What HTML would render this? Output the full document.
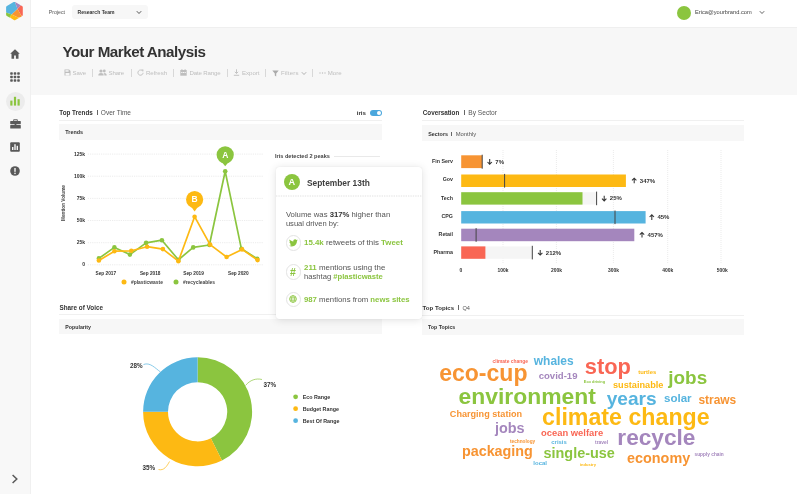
<!DOCTYPE html>
<html><head><meta charset="utf-8"><title>Your Market Analysis</title><style>
html,body{margin:0;padding:0}
body{width:797px;height:494px;position:relative;overflow:hidden;background:#fff;font-family:"Liberation Sans",sans-serif}
#txt{will-change:transform}
#txt text{font-family:"Liberation Sans",sans-serif;white-space:pre}
#side{position:absolute;left:0;top:0;width:31px;height:494px;background:#f8f8f8;border-right:0.6px solid #f0f0f0;box-sizing:border-box}
#top{position:absolute;left:31px;top:0;width:766px;height:27px;background:#fff}
#topl{position:absolute;left:31px;top:27px;width:766px;height:1px;background:#efefef}
#band{position:absolute;left:31px;top:27px;width:766px;height:67.6px;background:#f7f7f7}
#card{position:absolute;left:275.6px;top:166.9px;width:146px;height:151.8px;background:#fff;border-radius:3px;box-shadow:0 1px 8px rgba(0,0,0,0.12),0 0 1px rgba(0,0,0,0.12)}
</style></head><body>
<div id="side"></div>
<div id="top"></div>
<div id="band"></div>
<div id="topl"></div>

<svg style="position:absolute;left:0;top:0" width="32" height="24" viewBox="0 0 32 24">
<defs><clipPath id="hx"><path d="M13.6 2.1a1.5 1.5 0 0 1 1.5 0l6.9 3.9a1.5 1.5 0 0 1 .8 1.300v7.700a1.500 1.500 0 0 1-.8 1.300l-6.600 3.800a1.500 1.500 0 0 1-1.500 0l-7-4a1.500 1.500 0 0 1-.8-1.300v-7.500a1.500 1.500 0 0 1 .8-1.300z"/></clipPath></defs>
<g clip-path="url(#hx)">
<polygon points="14.3,0 4,5 4,11.9 11.65,14.6 17.5,9" fill="#56b4df"/>
<polygon points="14.3,0 23,3 20.9,5.3 17.5,9" fill="#a486bd"/>
<polygon points="20.9,5.300 23,3 25,6 25,16 21.4,15.800 17.500,9" fill="#f96654"/>
<polygon points="17.5,9 21.4,15.8 23,18 18,17.5 11.65,14.600" fill="#f79433"/>
<polygon points="11.65,14.600 18,17.500 20,19 14.600,22 9.700,17" fill="#fdb913"/>
<polygon points="4,11.9 11.65,14.6 9.7,17 11,21 4,20" fill="#8bc53f"/>
</g></svg>
<div style="position:absolute;left:71.8px;top:5.3px;width:76.3px;height:13.5px;background:#f7f7f7;border-radius:3px"></div>
<svg style="position:absolute;left:136px;top:10px" width="6" height="5" viewBox="0 0 6 5"><path d="M0.8 1.2 L3 3.5 L5.2 1.2" fill="none" stroke="#444" stroke-width="0.9"/></svg>
<div style="position:absolute;left:676.6px;top:5.5px;width:14px;height:14px;border-radius:50%;background:#8bc53f"></div>
<svg style="position:absolute;left:758.6px;top:10px" width="6" height="5" viewBox="0 0 6 5"><path d="M0.8 1.2 L3 3.5 L5.2 1.2" fill="none" stroke="#555" stroke-width="0.9"/></svg>
<div style="position:absolute;left:91.6px;top:68.5px;width:0.8px;height:8.5px;background:#d8d8d8"></div>
<div style="position:absolute;left:130.6px;top:68.5px;width:0.8px;height:8.5px;background:#d8d8d8"></div>
<div style="position:absolute;left:173.1px;top:68.5px;width:0.8px;height:8.5px;background:#d8d8d8"></div>
<div style="position:absolute;left:226.6px;top:68.5px;width:0.8px;height:8.5px;background:#d8d8d8"></div>
<div style="position:absolute;left:264.6px;top:68.5px;width:0.8px;height:8.5px;background:#d8d8d8"></div>
<div style="position:absolute;left:311.6px;top:68.5px;width:0.8px;height:8.5px;background:#d8d8d8"></div>
<svg style="position:absolute;left:63.5px;top:69.4px" width="7" height="7" viewBox="0 0 7 7"><path d="M0.5 0.5h4.6l1.4 1.4v4.6h-6z" fill="#bebebe"/><rect x="1.4" y="1.2" width="3.2" height="1.5" fill="#f7f7f7"/><rect x="1.5" y="4" width="4" height="2.5" fill="#f7f7f7"/></svg>
<svg style="position:absolute;left:98px;top:69.2px" width="9" height="7" viewBox="0 0 9 7"><circle cx="3" cy="2" r="1.6" fill="#bebebe"/><path d="M0.3 6.5c0-2 1.2-2.6 2.7-2.6s2.7 0.6 2.7 2.6z" fill="#bebebe"/><circle cx="6.3" cy="2" r="1.4" fill="#bebebe"/><path d="M6 3.9c1.6 0 2.7 0.6 2.7 2.6h-2.3c0-1-0.2-2-1-2.5z" fill="#bebebe"/></svg>
<svg style="position:absolute;left:136.5px;top:69.2px" width="7" height="7" viewBox="0 0 7 7"><path d="M5.6 2.1A2.6 2.6 0 1 0 6.1 3.8" fill="none" stroke="#bebebe" stroke-width="0.9"/><path d="M4.2 0.4h2.2v2.2z" fill="#bebebe"/></svg>
<svg style="position:absolute;left:180px;top:69.2px" width="7" height="7" viewBox="0 0 7 7"><rect x="0.3" y="1" width="6.4" height="5.7" fill="#bebebe"/><rect x="1.4" y="0.2" width="1" height="1.6" fill="#bebebe"/><rect x="4.6" y="0.2" width="1" height="1.6" fill="#bebebe"/><rect x="1.2" y="3" width="1.2" height="1" fill="#f7f7f7"/><rect x="2.9" y="3" width="1.2" height="1" fill="#f7f7f7"/><rect x="4.6" y="3" width="1.2" height="1" fill="#f7f7f7"/></svg>
<svg style="position:absolute;left:233px;top:69.2px" width="7" height="7" viewBox="0 0 7 7"><path d="M3.5 0.3v4M1.8 2.8l1.7 1.7 1.7-1.7M0.8 6.3h5.4" fill="none" stroke="#bebebe" stroke-width="0.9"/></svg>
<svg style="position:absolute;left:272px;top:69.6px" width="7" height="7" viewBox="0 0 7 7"><path d="M0.3 0.4h6.4L4.2 3.4v3L2.8 5.6V3.4z" fill="#aaa"/></svg>
<svg style="position:absolute;left:300.5px;top:70.7px" width="6" height="5" viewBox="0 0 6 5"><path d="M0.8 1.2 L3 3.5 L5.2 1.2" fill="none" stroke="#aaa" stroke-width="0.9"/></svg>
<svg style="position:absolute;left:318.5px;top:71.7px" width="7" height="2" viewBox="0 0 7 2"><circle cx="1" cy="1" r="0.7" fill="#bebebe"/><circle cx="3.5" cy="1" r="0.7" fill="#bebebe"/><circle cx="6" cy="1" r="0.7" fill="#bebebe"/></svg>
<svg style="position:absolute;left:10px;top:48.5px" width="10" height="10" viewBox="0 0 10 10"><path d="M5 0.3L0.2 4.8h1.3v4.9h2.6V6.4h1.8v3.3h2.6V4.8h1.3z" fill="#595959"/></svg>
<svg style="position:absolute;left:10px;top:72.3px" width="10" height="10" viewBox="0 0 10 10"><rect x="0.2" y="0.2" width="2.6" height="2.6" rx="0.7" fill="#595959"/><rect x="0.2" y="3.7" width="2.6" height="2.6" rx="0.7" fill="#595959"/><rect x="0.2" y="7.2" width="2.6" height="2.6" rx="0.7" fill="#595959"/><rect x="3.7" y="0.2" width="2.6" height="2.6" rx="0.7" fill="#595959"/><rect x="3.7" y="3.7" width="2.6" height="2.6" rx="0.7" fill="#595959"/><rect x="3.7" y="7.2" width="2.6" height="2.6" rx="0.7" fill="#595959"/><rect x="7.2" y="0.2" width="2.6" height="2.6" rx="0.7" fill="#595959"/><rect x="7.2" y="3.7" width="2.6" height="2.6" rx="0.7" fill="#595959"/><rect x="7.2" y="7.2" width="2.6" height="2.6" rx="0.7" fill="#595959"/></svg>
<div style="position:absolute;left:5.5px;top:91.5px;width:19px;height:19px;border-radius:50%;background:#ececec"></div>
<svg style="position:absolute;left:10px;top:96px" width="10" height="10" viewBox="0 0 10 10"><rect x="0.3" y="4.6" width="2.2" height="5" fill="#8bc53f"/><rect x="3.9" y="0.8" width="2.2" height="8.8" fill="#8bc53f"/><rect x="7.5" y="3.2" width="2.2" height="6.4" fill="#8bc53f"/></svg>
<svg style="position:absolute;left:9.5px;top:119px" width="11" height="10" viewBox="0 0 11 10"><path d="M3.6 1.8V0.8h3.8v1" fill="none" stroke="#595959" stroke-width="1"/><rect x="0.2" y="2" width="10.6" height="3.2" rx="0.6" fill="#595959"/><rect x="0.2" y="5.9" width="10.6" height="3.6" rx="0.6" fill="#595959"/><rect x="4.6" y="4.6" width="1.8" height="1.9" fill="#595959"/></svg>
<svg style="position:absolute;left:10px;top:142px" width="10" height="10" viewBox="0 0 10 10"><rect x="0.2" y="0.2" width="9.6" height="9.6" rx="1" fill="#595959"/><rect x="2" y="5" width="1.4" height="3" fill="#f7f7f7"/><rect x="4.3" y="2.2" width="1.4" height="5.8" fill="#f7f7f7"/><rect x="6.6" y="3.8" width="1.4" height="4.2" fill="#f7f7f7"/></svg>
<svg style="position:absolute;left:10px;top:166px" width="10" height="10" viewBox="0 0 10 10"><circle cx="5" cy="5" r="4.8" fill="#595959"/><rect x="4.3" y="2" width="1.4" height="3.8" fill="#f7f7f7"/><rect x="4.3" y="6.7" width="1.4" height="1.4" fill="#f7f7f7"/></svg>
<svg style="position:absolute;left:11px;top:474px" width="8" height="10" viewBox="0 0 8 10"><path d="M1.6 1L5.8 5L1.6 9" fill="none" stroke="#595959" stroke-width="1.5"/></svg>
<div style="position:absolute;left:96.6px;top:110.3px;width:0.8px;height:5.2px;background:#666"></div>
<div style="position:absolute;left:59px;top:119.7px;width:322.5px;height:0.8px;background:#f0f0f0"></div>
<div style="position:absolute;left:59px;top:123.8px;width:322.5px;height:15.8px;background:#f7f7f7"></div>
<div style="position:absolute;left:369.8px;top:110.3px;width:12.2px;height:5.6px;border-radius:3px;background:#4ba7dd"></div>
<div style="position:absolute;left:377px;top:110.9px;width:4.4px;height:4.4px;border-radius:50%;background:#fff"></div>
<svg style="position:absolute;left:0;top:0" width="797" height="494" viewBox="0 0 797 494"><line x1="87.8" x2="263" y1="264.8" y2="264.8" stroke="#e4e4e4" stroke-width="0.7" stroke-dasharray="1.2 1"/><line x1="87.8" x2="263" y1="242.7" y2="242.7" stroke="#e4e4e4" stroke-width="0.7" stroke-dasharray="1.2 1"/><line x1="87.8" x2="263" y1="220.5" y2="220.5" stroke="#e4e4e4" stroke-width="0.7" stroke-dasharray="1.2 1"/><line x1="87.8" x2="263" y1="198.4" y2="198.4" stroke="#e4e4e4" stroke-width="0.7" stroke-dasharray="1.2 1"/><line x1="87.8" x2="263" y1="176.2" y2="176.2" stroke="#e4e4e4" stroke-width="0.7" stroke-dasharray="1.2 1"/><line x1="87.8" x2="263" y1="154.1" y2="154.1" stroke="#e4e4e4" stroke-width="0.7" stroke-dasharray="1.2 1"/><polyline points="98.9,258.4 114.4,247.4 129.9,254.6 146.1,242.9 161.9,240.2 178.4,259.8 193.2,247.4 209.4,245 225.2,171.3 241.4,248.8 257.2,258.7" fill="none" stroke="#8bc53f" stroke-width="1.7" stroke-linejoin="round"/><circle cx="98.9" cy="258.4" r="2.3" fill="#8bc53f"/><circle cx="114.4" cy="247.4" r="2.3" fill="#8bc53f"/><circle cx="129.9" cy="254.6" r="2.3" fill="#8bc53f"/><circle cx="146.1" cy="242.9" r="2.3" fill="#8bc53f"/><circle cx="161.9" cy="240.2" r="2.3" fill="#8bc53f"/><circle cx="178.4" cy="259.8" r="2.3" fill="#8bc53f"/><circle cx="193.2" cy="247.4" r="2.3" fill="#8bc53f"/><circle cx="209.4" cy="245" r="2.3" fill="#8bc53f"/><circle cx="225.2" cy="171.3" r="2.3" fill="#8bc53f"/><circle cx="241.4" cy="248.8" r="2.3" fill="#8bc53f"/><circle cx="257.2" cy="258.7" r="2.3" fill="#8bc53f"/><polyline points="98.9,260.5 114.4,251.2 131.3,250.8 147.1,246.7 162.9,249.1 178.4,261.2 194.6,216.7 210.1,244.6 226.6,257 242.1,249.4 257.6,260.1" fill="none" stroke="#fdb913" stroke-width="1.7" stroke-linejoin="round"/><circle cx="98.9" cy="260.5" r="2.3" fill="#fdb913"/><circle cx="114.4" cy="251.2" r="2.3" fill="#fdb913"/><circle cx="131.3" cy="250.8" r="2.3" fill="#fdb913"/><circle cx="147.1" cy="246.7" r="2.3" fill="#fdb913"/><circle cx="162.9" cy="249.1" r="2.3" fill="#fdb913"/><circle cx="178.4" cy="261.2" r="2.3" fill="#fdb913"/><circle cx="194.6" cy="216.7" r="2.3" fill="#fdb913"/><circle cx="210.1" cy="244.6" r="2.3" fill="#fdb913"/><circle cx="226.6" cy="257" r="2.3" fill="#fdb913"/><circle cx="242.1" cy="249.4" r="2.3" fill="#fdb913"/><circle cx="257.6" cy="260.1" r="2.3" fill="#fdb913"/><path d="M222.0 162.20000000000002 L225.2 166.2 L228.39999999999998 162.20000000000002 Z" fill="#8bc53f"/><circle cx="225.2" cy="154.8" r="8.6" fill="#8bc53f"/><path d="M191.4 206.9 L194.6 211.6 L197.79999999999998 206.9 Z" fill="#fdb913"/><circle cx="194.6" cy="199.5" r="8.6" fill="#fdb913"/><circle cx="124" cy="281.9" r="2.5" fill="#fdb913"/><circle cx="176" cy="281.9" r="2.5" fill="#8bc53f"/></svg>
<div style="position:absolute;left:334px;top:155.6px;width:45.5px;height:0.7px;background:#e9e9e9"></div>
<div style="position:absolute;left:463.6px;top:110.3px;width:0.8px;height:5.2px;background:#666"></div>
<div style="position:absolute;left:422px;top:119.7px;width:322px;height:0.8px;background:#f0f0f0"></div>
<div style="position:absolute;left:421.7px;top:125px;width:322.3px;height:16.4px;background:#f7f7f7"></div>
<div style="position:absolute;left:451.4px;top:131.5px;width:0.8px;height:4.7px;background:#666"></div>
<svg style="position:absolute;left:0;top:0" width="797" height="494" viewBox="0 0 797 494"><line x1="503" x2="503" y1="150" y2="263" stroke="#e2e2e2" stroke-width="0.7" stroke-dasharray="1 1"/><line x1="556.4" x2="556.4" y1="150" y2="263" stroke="#e2e2e2" stroke-width="0.7" stroke-dasharray="1 1"/><line x1="613.4" x2="613.4" y1="150" y2="263" stroke="#e2e2e2" stroke-width="0.7" stroke-dasharray="1 1"/><line x1="667.7" x2="667.7" y1="150" y2="263" stroke="#e2e2e2" stroke-width="0.7" stroke-dasharray="1 1"/><line x1="721" x2="721" y1="150" y2="263" stroke="#e2e2e2" stroke-width="0.7" stroke-dasharray="1 1"/><rect x="461.2" y="155.3" width="21.0" height="12.8" fill="#f79433"/><rect x="481.7" y="154.70000000000002" width="1" height="14.0" fill="#444"/><path d="M489.7 159.1V164.1M487.5 162.0L489.7 164.2L491.9 162.0" fill="none" stroke="#333" stroke-width="1.05"/><rect x="461.2" y="174.5" width="164.7" height="12.5" fill="#fdb913"/><rect x="504.1" y="173.9" width="1" height="13.7" fill="#444"/><path d="M634.2 183.35V178.35M632 180.45L634.2 178.25L636.4 180.45" fill="none" stroke="#333" stroke-width="1.05"/><rect x="461.2" y="192.2" width="135.40000000000003" height="12.400000000000006" fill="#f5f5f5"/><rect x="461.2" y="192.2" width="121.3" height="12.4" fill="#8bc53f"/><rect x="596.1" y="191.6" width="1" height="13.6" fill="#444"/><path d="M604.2 195.79999999999998V200.79999999999998M602 198.7L604.2 200.89999999999998L606.4 198.7" fill="none" stroke="#333" stroke-width="1.05"/><rect x="461.2" y="211.1" width="184.4" height="12.4" fill="#56b4df"/><rect x="614.5" y="210.5" width="1" height="13.6" fill="#444"/><path d="M651.8000000000001 219.9V214.9M649.6 217.0L651.8000000000001 214.8L654.0 217.0" fill="none" stroke="#333" stroke-width="1.05"/><rect x="461.2" y="228.7" width="173.1" height="12.5" fill="#a486bd"/><rect x="475.6" y="228.1" width="1" height="13.7" fill="#444"/><path d="M642.0 237.54999999999998V232.54999999999998M639.8 234.64999999999998L642.0 232.45L644.1999999999999 234.64999999999998" fill="none" stroke="#333" stroke-width="1.05"/><rect x="461.2" y="246.4" width="71.09999999999997" height="12.400000000000006" fill="#f5f5f5"/><rect x="461.2" y="246.4" width="24.2" height="12.4" fill="#f96654"/><rect x="531.8" y="245.8" width="1" height="13.6" fill="#444"/><path d="M540.2 250.00000000000003V255.00000000000003M538 252.90000000000003L540.2 255.10000000000002L542.4 252.90000000000003" fill="none" stroke="#333" stroke-width="1.05"/></svg>
<div style="position:absolute;left:59px;top:314px;width:322.5px;height:0.8px;background:#f0f0f0"></div>
<div style="position:absolute;left:59px;top:318.9px;width:322.5px;height:15.6px;background:#f7f7f7"></div>
<svg style="position:absolute;left:0;top:0" width="797" height="494" viewBox="0 0 797 494"><path d="M197.60 357.30A54.5 54.5 0 0 1 222.00 460.53L210.85 438.27A29.6 29.6 0 0 0 197.60 382.20Z" fill="#8bc53f"/><path d="M222.00 460.53A54.5 54.5 0 0 1 143.10 411.80L168.00 411.80A29.6 29.6 0 0 0 210.85 438.27Z" fill="#fdb913"/><path d="M143.10 411.80A54.5 54.5 0 0 1 197.60 357.30L197.60 382.20A29.6 29.6 0 0 0 168.00 411.80Z" fill="#56b4df"/><path d="M143.5 364.5C150 362 155 368 160.5 372" fill="none" stroke="#56b4df" stroke-width="0.7"/><path d="M245.5 385.5C250 380 256 378 262 379.5" fill="none" stroke="#8bc53f" stroke-width="0.7"/><path d="M158.5 469.5C164 471 167 466 169.5 461.5" fill="none" stroke="#fdb913" stroke-width="0.7"/><circle cx="295.6" cy="396.8" r="2.4" fill="#8bc53f"/><circle cx="295.6" cy="408.7" r="2.4" fill="#fdb913"/><circle cx="295.6" cy="420.7" r="2.4" fill="#56b4df"/></svg>
<div style="position:absolute;left:458.0px;top:305.3px;width:0.8px;height:5.2px;background:#666"></div>
<div style="position:absolute;left:422px;top:314.5px;width:322px;height:0.8px;background:#f0f0f0"></div>
<div style="position:absolute;left:422px;top:319.1px;width:322px;height:16.1px;background:#f7f7f7"></div>
<div id="card"></div>
<svg style="position:absolute;left:275.6px;top:194.5px" width="146" height="2" viewBox="0 0 146 2"><line x1="0" x2="146" y1="1" y2="1" stroke="#cfcfcf" stroke-width="0.6" stroke-dasharray="1.4 1"/></svg>
<div style="position:absolute;left:283.7px;top:173.8px;width:16.4px;height:16.4px;border-radius:50%;background:#8bc53f"></div>
<div style="position:absolute;left:285.8px;top:235.10000000000002px;width:13.6px;height:13.6px;border-radius:50%;border:0.7px solid #e3e3e3;background:#fff"></div>
<div style="position:absolute;left:285.8px;top:264.40000000000003px;width:13.6px;height:13.6px;border-radius:50%;border:0.7px solid #e3e3e3;background:#fff"></div>
<div style="position:absolute;left:285.8px;top:291.7px;width:13.6px;height:13.6px;border-radius:50%;border:0.7px solid #e3e3e3;background:#fff"></div>
<svg style="position:absolute;left:288.6px;top:238.6px" width="9" height="8" viewBox="0 0 24 20"><path fill="#8bc53f" d="M23.6 2.4c-.9.4-1.800.6-2.800.8 1-.6 1.800-1.600 2.100-2.700-.9.600-2 1-3.100 1.200C18.900.7 17.700.1 16.300.1c-2.700 0-4.800 2.200-4.800 4.800 0 .4 0 .8.100 1.100C7.600 5.800 4.100 3.900 1.700.9c-.4.700-.7 1.600-.7 2.500 0 1.700.9 3.100 2.200 4-.8 0-1.500-.2-2.200-.6v.1c0 2.300 1.700 4.300 3.900 4.700-.4.100-.8.200-1.300.2-.3 0-.6 0-.9-.1.600 1.900 2.400 3.300 4.500 3.400-1.700 1.300-3.700 2.100-6 2.100-.4 0-.8 0-1.200-.1 2.100 1.400 4.700 2.200 7.400 2.200 8.900 0 13.700-7.300 13.700-13.700v-.6c.9-.7 1.700-1.500 2.400-2.500z"/></svg>
<svg style="position:absolute;left:289px;top:295px" width="8" height="8" viewBox="0 0 8 8"><circle cx="4" cy="4" r="3.4" fill="none" stroke="#8bc53f" stroke-width="0.8"/><ellipse cx="4" cy="4" rx="1.5" ry="3.4" fill="none" stroke="#8bc53f" stroke-width="0.7"/><path d="M0.6 4h6.8M1 2.4h6M1 5.6h6" stroke="#8bc53f" stroke-width="0.6" fill="none"/></svg>
<svg id="txt" style="position:absolute;left:0;top:0" width="797" height="494" viewBox="0 0 797 494">
<text font-size="5.21" font-weight="400" fill="#555" text-anchor="start" x="48.80" y="14.02">Project</text>
<text font-size="5.06" font-weight="700" fill="#333" text-anchor="start" x="77.50" y="13.97">Research Team</text>
<text font-size="5.69" font-weight="400" fill="#444" text-anchor="start" x="695.00" y="14.28">Erica@yourbrand.com</text>
<text font-size="15.20" font-weight="700" fill="#333" text-anchor="start" letter-spacing="-0.495" x="62.50" y="57.22">Your Market Analysis</text>
<text font-size="6.10" font-weight="400" fill="#bebebe" text-anchor="start" letter-spacing="-0.151" x="72.60" y="74.71">Save</text>
<text font-size="6.10" font-weight="400" fill="#bebebe" text-anchor="start" letter-spacing="-0.156" x="108.50" y="74.71">Share</text>
<text font-size="6.10" font-weight="400" fill="#bebebe" text-anchor="start" letter-spacing="-0.051" x="146.00" y="74.71">Refresh</text>
<text font-size="6.10" font-weight="400" fill="#bebebe" text-anchor="start" letter-spacing="-0.146" x="189.50" y="74.71">Date Range</text>
<text font-size="6.10" font-weight="400" fill="#bebebe" text-anchor="start" letter-spacing="-0.022" x="242.00" y="74.71">Export</text>
<text font-size="6.10" font-weight="400" fill="#bebebe" text-anchor="start" letter-spacing="0.142" x="281.00" y="74.71">Filters</text>
<text font-size="6.10" font-weight="400" fill="#bebebe" text-anchor="start" letter-spacing="0.050" x="327.70" y="74.71">More</text>
<text font-size="6.30" font-weight="700" fill="#333" text-anchor="start" x="59.30" y="114.88">Top Trends</text>
<text font-size="6.55" font-weight="400" fill="#555" text-anchor="start" x="100.80" y="114.96">Over Time</text>
<text font-size="5.40" font-weight="700" fill="#333" text-anchor="start" x="65.30" y="133.68">Trends</text>
<text font-size="6.20" font-weight="700" fill="#333" text-anchor="start" x="356.70" y="114.84">iris</text>
<text font-size="8.50" font-weight="700" fill="#fff" text-anchor="middle" x="225.20" y="157.71">A</text>
<text font-size="8.50" font-weight="700" fill="#fff" text-anchor="middle" x="194.60" y="202.41">B</text>
<text font-size="5.00" font-weight="700" fill="#333" text-anchor="end" x="85.00" y="266.45">0</text>
<text font-size="5.00" font-weight="700" fill="#333" text-anchor="end" x="85.00" y="244.31">25k</text>
<text font-size="5.00" font-weight="700" fill="#333" text-anchor="end" x="85.00" y="222.17">50k</text>
<text font-size="5.00" font-weight="700" fill="#333" text-anchor="end" x="85.00" y="200.03">75k</text>
<text font-size="5.00" font-weight="700" fill="#333" text-anchor="end" x="85.00" y="177.89">100k</text>
<text font-size="5.00" font-weight="700" fill="#333" text-anchor="end" x="85.00" y="155.75">125k</text>
<text font-size="4.75" font-weight="700" fill="#333" text-anchor="middle" x="105.80" y="274.77">Sep 2017</text>
<text font-size="4.75" font-weight="700" fill="#333" text-anchor="middle" x="150.20" y="274.77">Sep 2018</text>
<text font-size="4.75" font-weight="700" fill="#333" text-anchor="middle" x="193.60" y="274.77">Sep 2019</text>
<text font-size="4.75" font-weight="700" fill="#333" text-anchor="middle" x="238.30" y="274.77">Sep 2020</text>
<text font-size="4.92" font-weight="700" fill="#444" text-anchor="start" x="131.00" y="283.92">#plasticwaste</text>
<text font-size="4.88" font-weight="700" fill="#444" text-anchor="start" x="183.00" y="283.91">#recycleables</text>
<text font-size="4.71" font-weight="700" fill="#444" text-anchor="middle" transform="translate(65.15 203.00) rotate(-90)" x="0" y="0">Mention Volume</text>
<text font-size="5.59" font-weight="700" fill="#444" text-anchor="start" x="275.00" y="157.74">Iris detected 2 peaks</text>
<text font-size="9.20" font-weight="700" fill="#fff" text-anchor="middle" x="291.90" y="185.14">A</text>
<text font-size="8.40" font-weight="700" fill="#3f3f3f" text-anchor="start" x="307.00" y="186.00">September 13th</text>
<text font-size="7.72" font-weight="400" fill="#555" text-anchor="start" x="285.90" y="216.95">Volume was <tspan font-weight="700" fill="#333">317%</tspan> higher than</text>
<text font-size="7.57" font-weight="400" fill="#555" text-anchor="start" x="285.90" y="226.20">usual driven by:</text>
<text font-size="10.50" font-weight="700" fill="#8bc53f" text-anchor="middle" x="293.00" y="275.76">#</text>
<text font-size="7.88" font-weight="400" fill="#555" text-anchor="start" x="304.00" y="245.20"><tspan font-weight="700" fill="#8bc53f">15.4k</tspan> retweets of this <tspan font-weight="700" fill="#8bc53f">Tweet</tspan></text>
<text font-size="7.92" font-weight="400" fill="#555" text-anchor="start" x="304.00" y="269.61"><tspan font-weight="700" fill="#8bc53f">211</tspan> mentions using the</text>
<text font-size="7.64" font-weight="400" fill="#555" text-anchor="start" x="304.00" y="278.82">hashtag <tspan font-weight="700" fill="#8bc53f">#plasticwaste</tspan></text>
<text font-size="7.76" font-weight="400" fill="#555" text-anchor="start" x="304.00" y="301.56"><tspan font-weight="700" fill="#8bc53f">987</tspan> mentions from <tspan font-weight="700" fill="#8bc53f">news sites</tspan></text>
<text font-size="6.32" font-weight="700" fill="#333" text-anchor="start" x="422.80" y="114.88">Coversation</text>
<text font-size="6.62" font-weight="400" fill="#555" text-anchor="start" x="468.30" y="114.98">By Sector</text>
<text font-size="5.37" font-weight="700" fill="#333" text-anchor="start" x="428.30" y="135.67">Sectors</text>
<text font-size="5.88" font-weight="400" fill="#555" text-anchor="start" x="455.70" y="135.84">Monthly</text>
<text font-size="5.30" font-weight="700" fill="#333" text-anchor="end" x="453.00" y="163.35">Fin Serv</text>
<text font-size="6.00" font-weight="700" fill="#333" text-anchor="start" x="495.30" y="163.78">7%</text>
<text font-size="5.30" font-weight="700" fill="#333" text-anchor="end" x="453.00" y="181.45">Gov</text>
<text font-size="6.00" font-weight="700" fill="#333" text-anchor="start" x="639.80" y="182.83">347%</text>
<text font-size="5.30" font-weight="700" fill="#333" text-anchor="end" x="453.00" y="199.65">Tech</text>
<text font-size="6.00" font-weight="700" fill="#333" text-anchor="start" x="609.80" y="200.48">25%</text>
<text font-size="5.30" font-weight="700" fill="#333" text-anchor="end" x="453.00" y="217.80">CPG</text>
<text font-size="6.00" font-weight="700" fill="#333" text-anchor="start" x="657.40" y="219.38">45%</text>
<text font-size="5.30" font-weight="700" fill="#333" text-anchor="end" x="453.00" y="235.85">Retail</text>
<text font-size="6.00" font-weight="700" fill="#333" text-anchor="start" x="647.60" y="237.03">457%</text>
<text font-size="5.30" font-weight="700" fill="#333" text-anchor="end" x="453.00" y="254.15">Pharma</text>
<text font-size="6.00" font-weight="700" fill="#333" text-anchor="start" x="545.80" y="254.68">212%</text>
<text font-size="4.95" font-weight="700" fill="#333" text-anchor="middle" x="460.90" y="271.83">0</text>
<text font-size="4.95" font-weight="700" fill="#333" text-anchor="middle" x="503.00" y="271.83">100k</text>
<text font-size="4.95" font-weight="700" fill="#333" text-anchor="middle" x="556.40" y="271.83">200k</text>
<text font-size="4.95" font-weight="700" fill="#333" text-anchor="middle" x="613.40" y="271.83">300k</text>
<text font-size="4.95" font-weight="700" fill="#333" text-anchor="middle" x="667.70" y="271.83">400k</text>
<text font-size="4.95" font-weight="700" fill="#333" text-anchor="middle" x="722.30" y="271.83">500k</text>
<text font-size="6.33" font-weight="700" fill="#333" text-anchor="start" x="59.50" y="310.09">Share of Voice</text>
<text font-size="5.26" font-weight="700" fill="#333" text-anchor="start" x="65.30" y="329.33">Popularity</text>
<text font-size="6.30" font-weight="700" fill="#333" text-anchor="middle" x="136.30" y="368.48">28%</text>
<text font-size="6.30" font-weight="700" fill="#333" text-anchor="middle" x="269.80" y="386.58">37%</text>
<text font-size="6.30" font-weight="700" fill="#333" text-anchor="middle" x="148.70" y="469.58">35%</text>
<text font-size="5.35" font-weight="700" fill="#333" text-anchor="start" x="302.70" y="398.77">Eco Range</text>
<text font-size="5.35" font-weight="700" fill="#333" text-anchor="start" x="302.70" y="410.67">Budget Range</text>
<text font-size="5.35" font-weight="700" fill="#333" text-anchor="start" x="302.70" y="422.67">Best Of Range</text>
<text font-size="6.08" font-weight="700" fill="#333" text-anchor="start" x="422.60" y="310.00">Top Topics</text>
<text font-size="5.62" font-weight="400" fill="#555" text-anchor="start" x="462.50" y="309.86">Q4</text>
<text font-size="5.27" font-weight="700" fill="#333" text-anchor="start" x="428.00" y="329.14">Top Topics</text>
<text font-size="4.91" font-weight="700" fill="#f96654" text-anchor="start" x="492.55" y="362.61">climate change</text>
<text font-size="11.94" font-weight="700" fill="#56b4df" text-anchor="start" x="533.82" y="365.07">whales</text>
<text font-size="21.85" font-weight="700" fill="#f96654" text-anchor="start" x="584.81" y="374.37">stop</text>
<text font-size="23.05" font-weight="700" fill="#f79433" text-anchor="start" x="439.13" y="380.62">eco-cup</text>
<text font-size="9.57" font-weight="700" fill="#a486bd" text-anchor="start" x="538.68" y="379.30">covid-19</text>
<text font-size="5.88" font-weight="700" fill="#fdb913" text-anchor="start" x="638.22" y="374.12">turtles</text>
<text font-size="3.92" font-weight="700" fill="#8bc53f" text-anchor="start" x="583.84" y="383.15">Eco driving</text>
<text font-size="9.18" font-weight="700" fill="#fdb913" text-anchor="start" x="612.97" y="388.39">sustainable</text>
<text font-size="18.90" font-weight="700" fill="#8bc53f" text-anchor="start" x="668.33" y="384.02">jobs</text>
<text font-size="22.90" font-weight="700" fill="#8bc53f" text-anchor="start" x="458.56" y="403.87">environment</text>
<text font-size="19.13" font-weight="700" fill="#56b4df" text-anchor="start" x="606.66" y="404.50">years</text>
<text font-size="11.58" font-weight="700" fill="#56b4df" text-anchor="start" x="663.96" y="401.85">solar</text>
<text font-size="11.95" font-weight="700" fill="#f79433" text-anchor="start" x="698.43" y="403.92">straws</text>
<text font-size="9.11" font-weight="700" fill="#f79433" text-anchor="start" x="449.82" y="416.52">Charging station</text>
<text font-size="23.19" font-weight="700" fill="#fdb913" text-anchor="start" x="542.08" y="425.34">climate change</text>
<text font-size="14.41" font-weight="700" fill="#a486bd" text-anchor="start" x="494.98" y="432.95">jobs</text>
<text font-size="9.40" font-weight="700" fill="#f96654" text-anchor="start" x="541.11" y="436.05">ocean welfare</text>
<text font-size="22.67" font-weight="700" fill="#a486bd" text-anchor="start" x="617.34" y="445.07">recycle</text>
<text font-size="4.73" font-weight="700" fill="#f79433" text-anchor="start" x="510.03" y="442.67">technology</text>
<text font-size="5.95" font-weight="700" fill="#56b4df" text-anchor="start" x="551.30" y="444.07">crisis</text>
<text font-size="4.91" font-weight="700" fill="#a486bd" text-anchor="start" x="595.01" y="443.71">travel</text>
<text font-size="14.33" font-weight="700" fill="#f79433" text-anchor="start" x="461.96" y="456.23">packaging</text>
<text font-size="14.43" font-weight="700" fill="#8bc53f" text-anchor="start" x="543.53" y="457.72">single-use</text>
<text font-size="14.38" font-weight="700" fill="#f79433" text-anchor="start" x="627.05" y="462.56">economy</text>
<text font-size="4.77" font-weight="700" fill="#a486bd" text-anchor="start" x="694.55" y="456.28">supply chain</text>
<text font-size="5.97" font-weight="700" fill="#56b4df" text-anchor="start" x="533.34" y="464.95">local</text>
<text font-size="4.06" font-weight="700" fill="#fdb913" text-anchor="start" x="579.95" y="466.23">industry</text>
</svg>
</body></html>
